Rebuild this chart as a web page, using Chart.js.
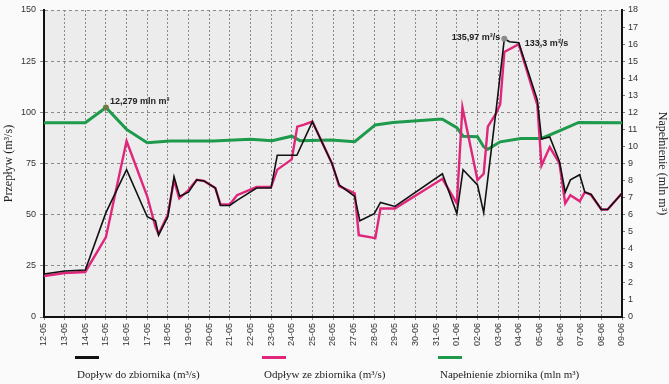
<!DOCTYPE html>
<html>
<head>
<meta charset="utf-8">
<script src="https://cdn.jsdelivr.net/npm/chart.js@4"></script>
<style>
   html, body { margin: 0; padding: 0; background: #fafafa; }
   #wrap { position: relative; width: 669px; height: 384px; }
   .leg { position: absolute; font-family: 'Liberation Serif', serif; font-size: 11px; color: #222; white-space: nowrap; }
   .leg .swatch { position: absolute; left: -2px; top: -12px; width: 24px; height: 3px; }
</style>
</head>
<body>
<div id="wrap">
   <canvas id="chart" width="669" height="384"></canvas>
   <div class="leg" style="left:77px; top:368px;"><span class="swatch" style="background:#111;"></span>Dopływ do zbiornika (m³/s)</div>
   <div class="leg" style="left:264px; top:368px;"><span class="swatch" style="background:#e0267a;"></span>Odpływ ze zbiornika (m³/s)</div>
   <div class="leg" style="left:440px; top:368px;"><span class="swatch" style="background:#1e9a4c;"></span>Napełnienie zbiornika (mln m³)</div>
</div>
<script>
// day labels on the x axis (one per day, 12 May - 9 June)
var dayLabels = ['12-05', '13-05', '14-05', '15-05', '16-05', '17-05', '18-05', '19-05', '20-05',
   '21-05', '22-05', '23-05', '24-05', '25-05', '26-05', '27-05', '28-05', '29-05', '30-05',
   '31-05', '01-06', '02-06', '03-06', '04-06', '05-06', '06-06', '07-06', '08-06', '09-06'];

// inflow (m3/s) - x is position in days from 12-05
var inflowDays = [0, 1, 2, 3, 4, 5, 5.4, 5.55, 6, 6.3, 6.57, 7, 7.4, 7.75, 8.3, 8.55, 9, 9.35, 10.3, 11,
   11.3, 12.25, 13, 13.95, 14.3, 15.05, 15.3, 16, 16.3, 17, 19.3, 20, 20.3, 21, 21.3, 21.9, 22.3, 22.55,
   23, 23.9, 24.1, 24.5, 24.97, 25.25, 25.5, 25.95, 26.2, 26.5, 27, 27.3, 28];
var inflowValues = [21, 22.5, 23, 51, 72, 49, 47, 40, 49, 68.5, 59, 61, 67, 66.5, 63, 54.5, 54.5, 57, 63, 63,
   79, 79, 95.5, 75, 64.5, 59, 47, 50.5, 56, 54, 70, 50.5, 72, 64.5, 51, 101, 135.97, 134.5,
   134, 106, 87, 88, 76, 61, 67, 69.5, 61, 60, 52.5, 52.5, 60.5];

// outflow (m3/s)
var outflowDays = [0, 1, 2, 3, 4, 5, 5.4, 5.55, 6, 6.3, 6.55, 7, 7.4, 7.75, 8.3, 8.55, 9, 9.35, 10.3, 11,
   11.3, 12, 12.27, 12.6, 13, 13.95, 14.3, 15.05, 15.25, 16.05, 16.3, 17, 19.3, 20, 20.27, 21, 21.3, 21.5,
   21.9, 22.1, 22.3, 23, 23.9, 24.1, 24.5, 24.97, 25.25, 25.5, 25.95, 26.2, 26.5, 27, 27.3, 28];
var outflowValues = [20, 21.5, 22, 39, 86, 59, 44, 40.5, 50, 67, 58, 62, 67, 66.5, 63, 55, 55, 59.5, 63.5, 63.5,
   72, 77, 93, 94, 95.5, 75, 64, 60.5, 40, 38.5, 53, 53, 67.5, 55.5, 102.4, 66.9, 70, 93,
   99.5, 104, 129.5, 133.3, 103.5, 74, 83, 75, 55.5, 59.5, 56.5, 61, 59.6, 52.5, 52.5, 60.5];

// reservoir storage (mln m3), right axis
var storageDays = [0, 2, 3, 4, 5, 6.1, 8.2, 10, 11.05, 12, 12.4, 13.9, 15.05, 16.05, 16.9, 19.1, 19.3, 20,
   20.3, 21, 21.3, 21.5, 22.1, 23.1, 24.1, 25.05, 25.9, 28];
var storageValues = [11.39, 11.39, 12.279, 11.0, 10.22, 10.32, 10.32, 10.42, 10.34, 10.6, 10.34, 10.38, 10.28,
   11.26, 11.4, 11.6, 11.6, 11.1, 10.6, 10.57, 9.98, 9.83, 10.27, 10.47, 10.47, 10.96, 11.41, 11.39];

// annotated points
var storagePeakLabel = '12,279 mln m³';
var inflowPeakLabel = '135,97 m³/s';
var outflowPeakLabel = '133,3 m³/s';

function toPoints(xs, ys) {
   var pts = [];
   for (var i = 0; i < xs.length; i++) {
      pts.push({ x: xs[i], y: ys[i] });
   }
   return pts;
}

function argMax(arr) {
   var best = 0;
   for (var i = 1; i < arr.length; i++) {
      if (arr[i] > arr[best]) best = i;
   }
   return best;
}

// grey plot background
var plotBackground = {
   id: 'plotBackground',
   beforeDraw: function(chart) {
      var a = chart.chartArea;
      var ctx = chart.ctx;
      ctx.save();
      ctx.fillStyle = '#ececec';
      ctx.fillRect(a.left, a.top, a.right - a.left, a.bottom - a.top);
      ctx.restore();
   }
};

// peak markers with their value labels
var peakNotes = {
   id: 'peakNotes',
   afterDatasetsDraw: function(chart) {
      var ctx = chart.ctx;
      var x = chart.scales.x, y = chart.scales.y, y1 = chart.scales.y1;

      var s = argMax(storageValues);
      var sx = x.getPixelForValue(storageDays[s]), sy = y1.getPixelForValue(storageValues[s]);
      var f = argMax(inflowValues);
      var fx = x.getPixelForValue(inflowDays[f]), fy = y.getPixelForValue(inflowValues[f]);
      var o = argMax(outflowValues);
      var ox = x.getPixelForValue(outflowDays[o]), oy = y.getPixelForValue(outflowValues[o]);

      ctx.save();
      ctx.fillStyle = '#6d7a45';
      ctx.beginPath(); ctx.arc(sx, sy, 3, 0, Math.PI * 2); ctx.fill();
      ctx.fillStyle = '#8a8a8a';
      ctx.beginPath(); ctx.arc(fx, fy, 3, 0, Math.PI * 2); ctx.fill();

      ctx.font = 'bold 9px "Liberation Sans", Arial, sans-serif';
      ctx.fillStyle = '#222';
      ctx.textBaseline = 'middle';
      ctx.textAlign = 'left';
      ctx.fillText(storagePeakLabel, sx + 4, sy - 6);
      ctx.textAlign = 'right';
      ctx.fillText(inflowPeakLabel, fx - 4, fy - 1);
      ctx.textAlign = 'left';
      ctx.fillText(outflowPeakLabel, ox + 6, oy - 1);
      ctx.restore();
   }
};

var tickFont = { family: '"Liberation Sans", Arial, sans-serif', size: 9 };
var titleFont = { family: '"Liberation Serif", "Times New Roman", serif', size: 12 };

new Chart(document.getElementById('chart').getContext('2d'), {
   type: 'line',
   data: {
      datasets: [{
         label: 'Dopływ do zbiornika (m³/s)',
         data: toPoints(inflowDays, inflowValues),
         borderColor: '#111111',
         borderWidth: 1.6,
         yAxisID: 'y',
         order: 0
      }, {
         label: 'Odpływ ze zbiornika (m³/s)',
         data: toPoints(outflowDays, outflowValues),
         borderColor: '#e0267a',
         borderWidth: 2.4,
         yAxisID: 'y',
         order: 1
      }, {
         label: 'Napełnienie zbiornika (mln m³)',
         data: toPoints(storageDays, storageValues),
         borderColor: '#1e9a4c',
         borderWidth: 3,
         yAxisID: 'y1',
         order: 2
      }]
   },
   options: {
      responsive: false,
      animation: false,
      parsing: false,
      elements: {
         point: { radius: 0 },
         line: { tension: 0, borderJoinStyle: 'miter' }
      },
      layout: { padding: { top: 10, bottom: 38, left: 0, right: 0 } },
      plugins: {
         legend: { display: false },
         tooltip: { enabled: false }
      },
      scales: {
         x: {
            type: 'linear',
            min: 0,
            max: dayLabels.length - 1,
            afterFit: function(scale) { scale.height = 29; },
            ticks: {
               stepSize: 1,
               autoSkip: false,
               maxRotation: 90,
               minRotation: 90,
               padding: 2,
               font: tickFont,
               color: '#333',
               callback: function(v) { return dayLabels[v]; }
            },
            grid: { color: '#8a8a8a', tickLength: 4, tickBorderDash: [2, 2] },
            border: { color: '#111', width: 2, dash: [2, 2] }
         },
         y: {
            position: 'left',
            min: 0,
            max: 150,
            afterFit: function(scale) { scale.width = 44; },
            ticks: { stepSize: 25, font: tickFont, color: '#333', padding: 4 },
            grid: { color: '#8a8a8a', tickLength: 4, tickBorderDash: [3, 3] },
            border: { color: '#111', width: 2, dash: [3, 3] },
            title: {
               display: true,
               text: 'Przepływ (m³/s)',
               font: titleFont,
               color: '#222',
               padding: { top: 2, bottom: 0 }
            }
         },
         y1: {
            position: 'right',
            min: 0,
            max: 18,
            afterFit: function(scale) { scale.width = 47; },
            ticks: { stepSize: 1, font: tickFont, color: '#333', padding: 3 },
            grid: { drawOnChartArea: false, color: '#777', tickLength: 3 },
            border: { color: '#111', width: 2 },
            title: {
               display: true,
               text: 'Napełnienie (mln m³)',
               font: titleFont,
               color: '#222',
               padding: { top: 0, bottom: 0 }
            }
         }
      }
   },
   plugins: [plotBackground, peakNotes]
});
</script>
</body>
</html>
